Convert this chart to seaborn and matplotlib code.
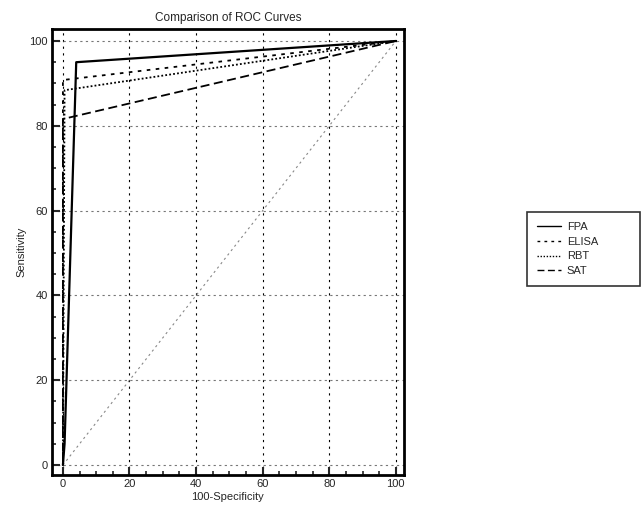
import numpy as np
import pandas as pd
import seaborn as sns
import matplotlib.pyplot as plt
from matplotlib.ticker import MultipleLocator

# ROC points (100-Specificity, Sensitivity)
fpa_x = [0, 0.5, 4, 100]
fpa_y = [0, 5, 95, 100]
elisa_x = [0, 0, 100]
elisa_y = [0, 90.8, 100]
rbt_x = [0, 0.5, 100]
rbt_y = [0, 88.4, 100]
sat_x = [0, 0, 100]
sat_y = [0, 81.6, 100]
diag_x = [0, 100]
diag_y = [0, 100]

tests = ['FPA', 'ELISA', 'RBT', 'SAT']
xs = [fpa_x, elisa_x, rbt_x, sat_x]
ys = [fpa_y, elisa_y, rbt_y, sat_y]
styles = ['-', (0, (2, 3)), (0, (1, 1.2)), (0, (5, 2.5))]
widths = [1.6, 1.3, 1.3, 1.3]

sns.set_style('ticks')
plt.rcParams['font.family'] = ['Liberation Sans', 'DejaVu Sans']

fig = plt.figure(figsize=(6.41, 5.11), dpi=100)
ax = fig.add_axes([0.081, 0.070, 0.549, 0.873])

sns.lineplot(x=diag_x, y=diag_y, ax=ax, color='#888888', lw=0.8,
             linestyle=(0, (2, 3)), sort=False, estimator=None)

for name, x, y, ls, w in zip(tests, xs, ys, styles, widths):
    df = pd.DataFrame({'x': x, 'y': y})
    sns.lineplot(data=df, x='x', y='y', ax=ax, color='black', lw=w,
                 linestyle=ls, sort=False, estimator=None, label=name)

ax.set_xlim(-3.3, 102.4)
ax.set_ylim(-2.4, 102.8)
ax.xaxis.set_major_locator(MultipleLocator(20))
ax.yaxis.set_major_locator(MultipleLocator(20))
ax.xaxis.set_minor_locator(MultipleLocator(5))
ax.yaxis.set_minor_locator(MultipleLocator(5))
ax.tick_params(which='major', direction='in', length=6, width=1.5, labelsize=8, pad=3)
ax.tick_params(which='minor', direction='in', length=3, width=1.2)
ax.grid(True, which='major', axis='x', color='black', lw=0.8, linestyle=(0, (2, 4)))
ax.grid(True, which='major', axis='y', color='#777777', lw=0.8, linestyle=(0, (2, 3)))
for s in ax.spines.values():
    s.set_linewidth(2)
    s.set_color('black')

ax.set_xlabel('100-Specificity', fontsize=8, labelpad=2)
ax.set_ylabel('Sensitivity', fontsize=8, labelpad=2)
ax.set_title('Comparison of ROC Curves', fontsize=8.5, pad=6)

leg = ax.legend(loc='upper left', bbox_to_anchor=(0.822, 0.44, 0.176, 0.145),
                bbox_transform=fig.transFigure, mode='expand', fontsize=8,
                frameon=True, fancybox=False, borderpad=0.9, handlelength=2.2,
                labelspacing=0.42, handletextpad=0.5, borderaxespad=0)
leg.get_frame().set_edgecolor('black')
leg.get_frame().set_linewidth(1.2)
for line in leg.get_lines():
    line.set_linewidth(1.0)

fig.savefig('out.png', dpi=100)
